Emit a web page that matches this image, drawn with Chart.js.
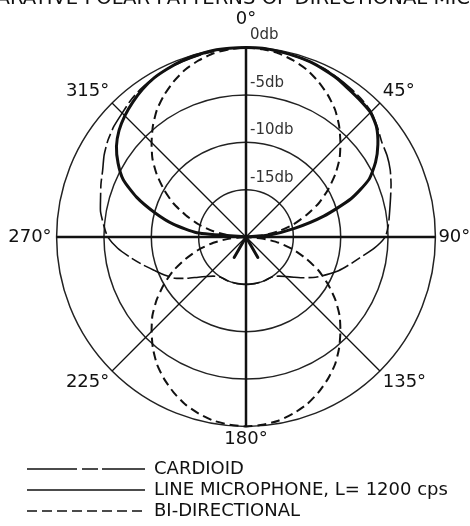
<!DOCTYPE html>
<html><head><meta charset="utf-8">
<script src="https://cdn.jsdelivr.net/npm/chart.js@4.4.1/dist/chart.umd.min.js"></script>
<style>
html,body{margin:0;padding:0;background:#fff;overflow:hidden;width:470px;height:526px;}
#title{position:absolute;left:-60px;top:-12px;white-space:nowrap;font-family:"DejaVu Sans",sans-serif;font-size:19.6px;line-height:20px;color:#111;}
#wrap{position:absolute;left:0;top:0;width:500px;height:530px;}
</style></head><body>
<div id="wrap"><canvas id="c"></canvas></div>
<div id="title"></div>
<script>
const titleText = 'COMPARATIVE POLAR PATTERNS OF DIRECTIONAL MICROPHONES';
const angles = [0,5,10,15,20,25,30,35,40,45,50,55,60,65,70,75,80,85,90,95,100,105,110,115,120,125,130,135,140,145,150,155,160,165,170,175,180,185,190,195,200,205,210,215,220,225,230,235,240,245,250,255,260,265,270,275,280,285,290,295,300,305,310,315,320,325,330,335,340,345,350,355];
const seriesNames = ['CARDIOID', 'LINE MICROPHONE, L= 1200 cps', 'BI-DIRECTIONAL'];
const cardioid = [0, 0, -0.1, -0.2, -0.3, -0.4, -0.6, -0.8, -1.0, -1.3,
  -1.9, -2.5, -2.8, -3.2, -3.7, -4.2, -4.6, -4.9, -5.3, -6.4,
  -7.7, -8.7, -9.6, -10.6, -11.5, -12.5, -13.4, -14.1, -14.6, -14.9,
  -15, -15, -15, -15, -15, -15, -15, -15, -15, -15,
  -15, -15, -15, -14.9, -14.6, -14.1, -13.4, -12.4, -11.3, -10.5,
  -9.7, -8.7, -7.6, -6.4, -5.4, -4.9, -4.4, -4.1, -3.7, -3.3,
  -2.7, -2.2, -1.8, -1.5, -1.1, -0.8, -0.6, -0.4, -0.3, -0.2,
  -0.1, 0];
const lineMic = [0, 0, -0.1, -0.2, -0.3, -0.5, -0.7, -1.0, -1.2, -1.4,
  -2.0, -3.0, -4.2, -5.7, -8.2, -11.5, -14.8, -17.5, -20, -20,
  -20, -20, -20, -20, -20, -20, -20, -20, -20, -20,
  -17.5, -20, -20, -20, -20, -20, -20, -20, -20, -20,
  -20, -20, -17.5, -20, -20, -20, -20, -20, -20, -20,
  -20, -20, -20, -20, -20, -14.8, -12.2, -10.0, -7.7, -5.7,
  -4.4, -3.3, -2.5, -1.9, -1.4, -0.95, -0.6, -0.4, -0.2, -0.1,
  0, 0];
const biDirectional = [0, -0.1, -0.3, -0.7, -1.2, -1.9, -2.7, -3.6, -4.7, -5.9,
  -7.1, -8.5, -10.0, -11.5, -13.2, -14.8, -16.5, -18.3, -20, -18.3,
  -16.5, -14.8, -13.2, -11.5, -10.0, -8.5, -7.1, -5.9, -4.7, -3.6,
  -2.7, -1.9, -1.2, -0.7, -0.3, -0.1, 0, -0.1, -0.3, -0.7,
  -1.2, -1.9, -2.7, -3.6, -4.7, -5.9, -7.1, -8.5, -10.0, -11.5,
  -13.2, -14.8, -16.5, -18.3, -20, -18.3, -16.5, -14.8, -13.2, -11.5,
  -10.0, -8.5, -7.1, -5.9, -4.7, -3.6, -2.7, -1.9, -1.2, -0.7,
  -0.3, -0.1];
const dbTicks = [-15, -10, -5, 0];
const dbTickLabels = ['-15db', '-10db', '-5db', '0db'];

document.getElementById('title').textContent = titleText;

const FONT = '"DejaVu Sans", sans-serif';
const INK = '#111';
const labelPad = {0: 19, 90: 3, 180: 4, 270: 5};
const legendDash = [[50, 5, 16, 4], [], [10, 5]];

const dbLabels = {
  id: 'dbLabels',
  afterDatasetsDraw(chart) {
    const s = chart.scales.r, ctx = chart.ctx;
    ctx.save();
    ctx.font = '15px ' + FONT;
    ctx.fillStyle = '#333';
    ctx.textAlign = 'left';
    ctx.textBaseline = 'middle';
    dbTicks.forEach((v, i) => {
      const p = s.getPointPositionForValue(0, v);
      ctx.fillText(dbTickLabels[i], p.x + 4, p.y - 12);
    });
    ctx.restore();
  }
};
const legendShift = {
  id: 'legendShift',
  afterLayout(chart) { const l = chart.legend; if (l) { l.left += 23; l.right += 23; } }
};

new Chart(document.getElementById('c'), {
  type: 'radar',
  data: {
    labels: angles,
    datasets: [
      { label: seriesNames[0], data: cardioid, borderColor: INK, backgroundColor: 'transparent',
        borderWidth: 1.6, borderDash: [28, 4, 10, 4], fill: false, tension: 0.2 },
      { label: seriesNames[1], data: lineMic, borderColor: INK, backgroundColor: 'transparent',
        borderWidth: 3, fill: false, tension: 0.2, borderJoinStyle: 'round', borderCapStyle: 'round',
        segment: { borderWidth: c => (c.p0DataIndex >= 18 && c.p0DataIndex < 54) ? 1 : 3 } },
      { label: seriesNames[2], data: biDirectional, borderColor: INK, backgroundColor: 'transparent',
        borderWidth: 2, borderDash: [9, 5], fill: false, tension: 0.2 }
    ]
  },
  options: {
    responsive: true,
    maintainAspectRatio: false,
    animation: false,
    devicePixelRatio: 1,
    layout: { padding: { left: 1, right: 21, top: 2.6, bottom: 0 } },
    elements: { point: { radius: 0, hitRadius: 0, hoverRadius: 0 } },
    scales: {
      r: {
        min: -20, max: 0,
        ticks: { stepSize: 5, display: false },
        grid: { circular: true, color: '#222', lineWidth: 1.5 },
        angleLines: {
          color: INK,
          lineWidth: c => (c.index % 18 === 0 ? 2.5 : (c.index % 9 === 0 ? 1.3 : 0))
        },
        pointLabels: {
          color: INK,
          callback: v => (Number(v) % 45 === 0 ? v + '°' : ''),
          font: c => ({ family: FONT, size: c.index % 9 === 0 ? 18 : 1, lineHeight: 1 }),
          padding: c => { const a = c.index * 5; return labelPad[a] !== undefined ? labelPad[a] : 4; }
        }
      }
    },
    plugins: {
      title: { display: false },
      legend: {
        display: true, position: 'bottom', align: 'start',
        labels: {
          color: INK, font: { family: FONT, size: 18 }, padding: 3,
          usePointStyle: true, pointStyle: 'line', pointStyleWidth: 118,
          generateLabels: chart => Chart.defaults.plugins.legend.labels.generateLabels(chart).map((it, i) =>
            Object.assign(it, { lineWidth: 1.5, strokeStyle: INK, lineDash: legendDash[i] }))
        }
      },
      tooltip: { enabled: false }
    }
  },
  plugins: [dbLabels, legendShift]
});
</script>
</body></html>
